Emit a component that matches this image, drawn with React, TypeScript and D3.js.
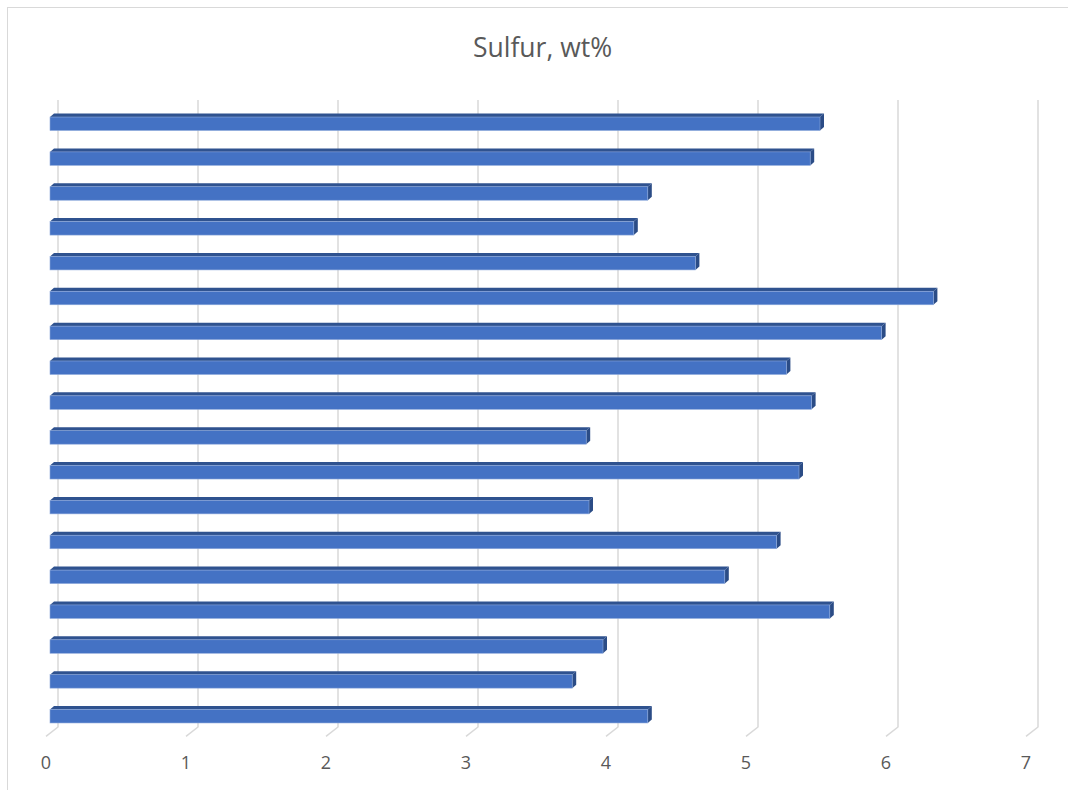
import React from "react";
import * as d3 from "d3";

const title = "Sulfur, wt%";
const categories = ["1","2","3","4","5","6","7","8","9","10","11","12","13","14","15","16","17","18"];
const sulfur = [5.5, 5.43, 4.27, 4.17, 4.61, 6.31, 5.94, 5.26, 5.44, 3.83, 5.35, 3.85, 5.19, 4.82, 5.57, 3.95, 3.73, 4.27];
const xTicks = [0, 1, 2, 3, 4, 5, 6, 7];

const W = 1068;
const H = 790;

export default function App() {
  const x = d3.scaleLinear().domain([0, 7]).range([58, 1038]);
  const y = d3.scaleBand<string>().domain(categories).range([104.6, 731.9]);
  const gridTop = 100;
  const floorBack = 727;
  const depthDx = -12;
  const depthDy = 9.3;
  const frontShift = -8;
  const barDx = 4;
  const barDy = 3.5;
  const barH = 13.5;

  return (
    <svg width={W} height={H} style={{ position: "absolute", left: 0, top: 0 }}>
      <rect x={0} y={0} width={W} height={H} fill="#fff" />
      <rect x={7.5} y={7.5} width={W + 20} height={H + 20} fill="none" stroke="#D9D9D9" strokeWidth={1} />
      <text x={542.5} y={56.5} textAnchor="middle" fontFamily="'Open Sans', sans-serif" fontSize={26.5} fill="#595959">
        {title}
      </text>
      {xTicks.map((t) => {
        const gx = x(t);
        return (
          <g key={t}>
            <path
              d={`M${gx},${gridTop} L${gx},${floorBack} L${gx + depthDx},${floorBack + depthDy}`}
              fill="none"
              stroke="#D9D9D9"
              strokeWidth={1.5}
            />
            <text
              x={gx + depthDx}
              y={769}
              textAnchor="middle"
              fontFamily="'Open Sans', sans-serif"
              fontSize={18}
              fill="#595959"
            >
              {t}
            </text>
          </g>
        );
      })}
      {categories.map((c, i) => {
        const v = sulfur[i];
        const bandMid = (y(c) as number) + y.bandwidth() / 2;
        const T = bandMid - (barDy + barH) / 2;
        const x0 = x(0) + frontShift;
        const xe = x(v) + frontShift;
        const fy = T + barDy;
        return (
          <g key={c}>
            <path
              d={`M${x0},${fy} L${x0 + barDx},${T} L${xe + barDx},${T} L${xe},${fy} Z`}
              fill="#2F528F"
            />
            <path
              d={`M${xe},${fy} L${xe + barDx},${T} L${xe + barDx},${T + barH} L${xe},${fy + barH} Z`}
              fill="#2B4C86"
            />
            <rect x={x0} y={fy} width={xe - x0} height={barH} fill="#4472C4" stroke="#8EA9DB" strokeWidth={0.6} />
          </g>
        );
      })}
    </svg>
  );
}
